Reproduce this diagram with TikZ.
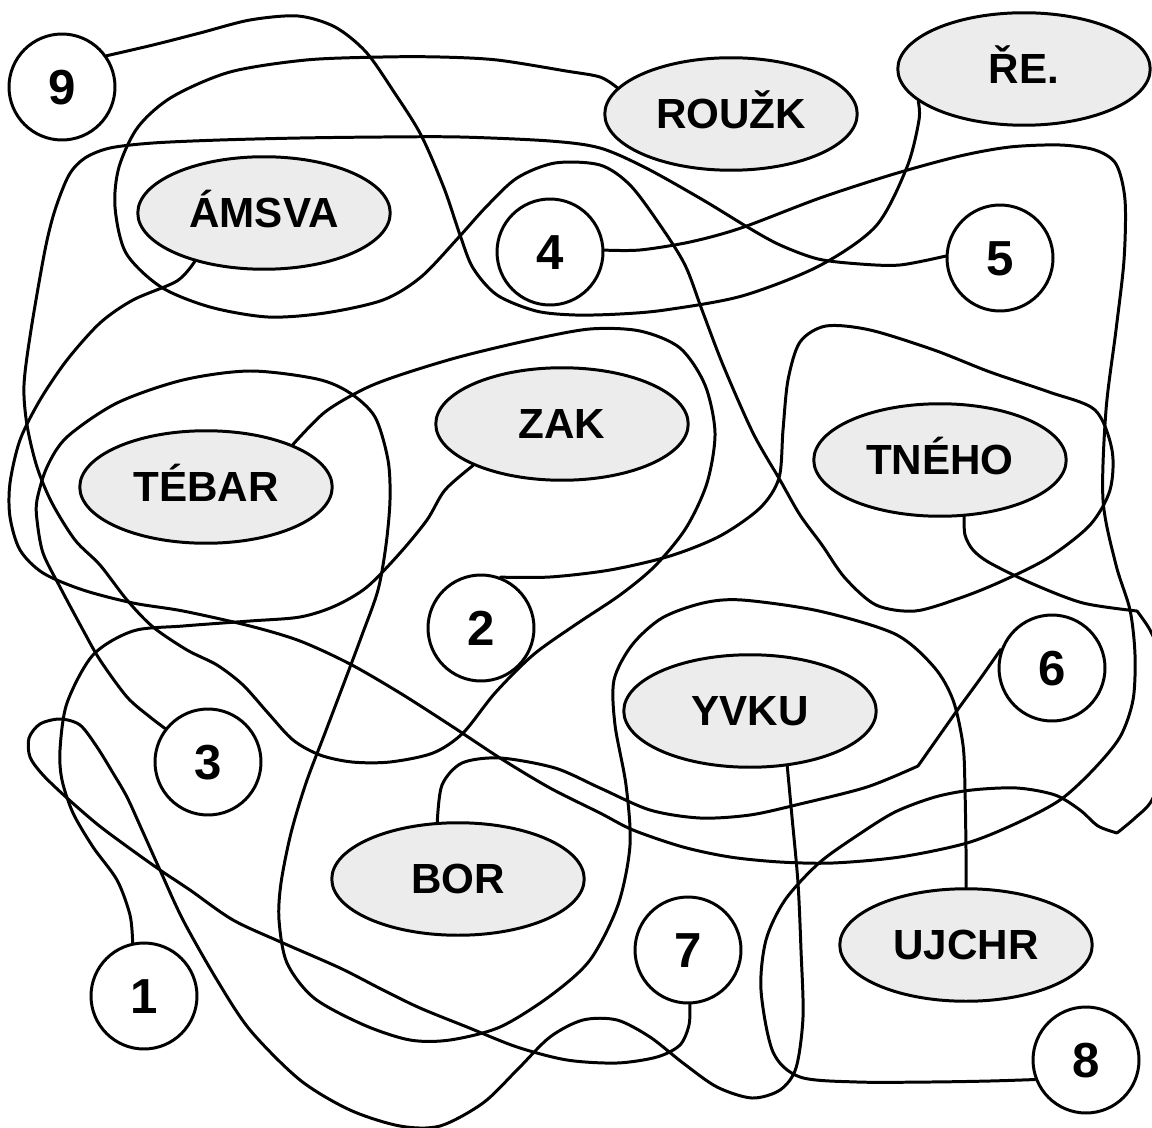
\documentclass[tikz,border=0pt]{standalone}
\usepackage{fontspec}
\setmainfont{Liberation Sans}
\usetikzlibrary{shapes.geometric}
\definecolor{ovalfill}{RGB}{236,236,236}

\begin{document}
\begin{tikzpicture}[x=0.02cm, y=-0.02cm,
          numcircle/.style={circle, draw=black, line width=1.7pt, fill=white,
            minimum size=2.12cm, inner sep=0pt, text height=20pt, text depth=0pt,
            font=\fontsize{28}{28}\selectfont\bfseries},
          wordoval/.style={ellipse, draw=black, line width=1.7pt, fill=ovalfill,
            minimum width=5.05cm, minimum height=2.25cm, inner sep=0pt,
            text height=17pt, text depth=0pt, font=\fontsize{24}{24}\selectfont\bfseries},
          tangle/.style={line width=1.7pt, line cap=round, line join=round}]

        \useasboundingbox (0,0) rectangle (1152,1128);
        \clip (0,0) rectangle (1152,1128);

        \node[numcircle] (c9)    at (62,87)    {9};
        \node[wordoval]  (rouzk) at (731,114)  {ROUŽK};
        \node[wordoval]  (re)    at (1024,69)  {ŘE.};
        \node[wordoval]  (amsva) at (264,213)  {ÁMSVA};
        \node[numcircle] (c4)    at (550,252)  {4};
        \node[numcircle] (c5)    at (1000,258) {5};

        \node[wordoval]  (zak)   at (562,424)  {ZAK};
        \node[wordoval]  (tebar) at (206,487)  {TÉBAR};
        \node[wordoval]  (tneho) at (940,460)  {TNÉHO};
        \node[numcircle] (c2)    at (481,628)  {2};
        \node[numcircle] (c6)    at (1052,668) {6};

        \node[wordoval]  (yvku)  at (750,711)  {YVKU};
        \node[numcircle] (c3)    at (208,762)  {3};
        \node[wordoval]  (bor)   at (458,879)  {BOR};
        \node[numcircle] (c7)    at (688,950)  {7};
        \node[wordoval]  (ujchr) at (966,945)  {UJCHR};
        \node[numcircle] (c1)    at (144,996)  {1};
        \node[numcircle] (c8)    at (1086,1060) {8};

        \draw[tangle] plot[smooth] coordinates {(c9.35) (153,45) (200,33) (250,20) (298,16)
          (335,27) (366,52) (394,92) (421,135) (444,188) (460,235) (473,268) (497,295)
          (536,311) (575,315) (620,314) (665,310) (742,296) (819,266) (876,226) (907,167)
          (919,120) (re.197)};

        \draw[tangle] plot[smooth] coordinates {(rouzk.167) (600,77) (566,71) (497,60)
          (440,57) (383,57) (306,60) (230,72) (172,97) (138,127) (119,167) (115,207)
          (126,253) (161,287) (210,307) (268,317) (325,313) (383,300) (421,277) (459,237)
          (486,207) (517,178) (555,163) (600,165) (630,185) (660,225) (685,265) (702,310)
          (723,365) (753,433) (780,480) (800,515) (822,545) (845,578) (876,605) (915,611)
          (960,598) (1000,582) (1048,558) (1090,525) (1110,490) (1112,450) (1095,410)
          (1049,392) (990,372) (934,350) (870,330) (826,326) (800,342) (788,380) (783,430)
          (779,478) (760,508) (720,536) (670,556) (610,570) (550,577) (c2.69)};

        \draw[tangle] plot[smooth] coordinates {(c4.2) (640,250) (690,242) (741,228)
          (820,198) (894,174) (960,156) (1010,147) (1060,145) (1095,150) (1116,164)
          (1125,200) (1124,260) (1116,330) (1106,410) (1103,500) (1116,565) (1130,610)
          (1135,655) (1133,700) (1120,737) (1093,770) (1060,800) (1017,823) (967,843)
          (900,857) (833,863) (780,862) (730,857) (683,847) (633,830) (600,813) (550,788)
          (500,758) (450,725) (400,693) (350,664) (300,641) (250,626) (183,611) (133,603)
          (83,590) (43,573) (20,550) (10,517) (10,483) (20,440) (40,400) (67,360) (100,323)
          (133,300) (177,281) (amsva.215)};

        \draw[tangle] plot[smooth] coordinates {(c5.178) (900,265) (860,264) (818,259)
          (780,245) (749,228) (703,200) (646,168) (600,148) (550,141) (460,137) (383,137)
          (300,138) (220,140) (153,143) (110,148) (85,158) (69,175) (55,210) (45,250)
          (31,330) (24,385) (27,425) (37,467) (52,503) (75,540) (100,565) (127,600)
          (153,627) (187,650) (217,665) (243,685) (268,713) (293,740) (320,755) (352,762)
          (390,762) (433,753) (463,733) (495,693) (533,655) (575,625) (620,595) (655,566)
          (686,528) (707,483) (715,433) (705,385) (680,348) (640,331) (590,329) (530,340)
          (459,357) (400,375) (364,389) (325,412) (tebar.26)};

        \draw[tangle] plot[smooth] coordinates {(c3.142) (150,717) (127,697) (100,660)
          (83,630) (60,587) (43,553) (37,520) (37,500) (47,467) (67,437) (117,403)
          (183,380) (250,371) (317,379) (350,393) (375,417) (388,460) (390,500) (386,545)
          (378,590) (362,635) (344,683) (325,733) (306,783) (291,833) (281,883) (279,920)
          (287,963) (314,998) (364,1025) (410,1040) (450,1040) (500,1027) (550,996)
          (590,960) (618,905) (630,845) (626,785) (615,725) (614,680) (632,645) (662,618)
          (703,603) (742,600) (819,611) (895,634) (934,667) (953,700) (963,745) (965,790)
          (966,850) (ujchr.north)};

        \draw[tangle] plot[smooth] coordinates {(c6.160) (980,679) (956,712) (918,766)}
          plot[smooth] coordinates {(918,766) (867,787) (800,804) (750,815) (700,818)
          (650,810) (600,788) (555,768) (500,758) (462,763) (442,785) (bor.110)};

        \draw[tangle] plot[smooth] coordinates {(c7.272) (689,1025) (680,1045) (657,1057)
          (617,1063) (567,1060) (517,1047) (467,1027) (420,1008) (383,990) (340,968)
          (283,943) (233,920) (190,890) (160,870) (125,845) (97,824) (67,798) (43,775)
          (30,757) (29,738) (40,724) (60,719) (80,725) (97,747) (113,773) (127,797)
          (142,830) (160,870) (183,920) (217,980) (250,1030) (300,1080) (350,1110)
          (400,1126) (440,1126) (483,1103) (517,1070) (550,1037) (583,1020) (617,1020)
          (650,1037) (683,1063) (717,1087) (752,1098) (780,1090) (796,1068) (803,1017)
          (801,950) (798,883) (792,817) (yvku.304)};

        \draw[tangle] plot[smooth] coordinates {(c8.201) (990,1081) (930,1082) (857,1082)
          (800,1077) (773,1052) (761,990) (766,940) (785,900) (819,863) (858,835)
          (895,812) (935,797) (972,790) (1017,788) (1055,795) (1080,810) (1098,826)
          (1117,833)}
          plot[smooth] coordinates {(1117,833) (1135,818) (1152,800) (1166,760)
          (1168,700) (1160,655) (1150,630) (1137,611)}
          plot[smooth] coordinates {(1137,611) (1083,603) (1033,584) (990,563)
          (973,550) (965,535) (tneho.293)};

        \draw[tangle] plot[smooth] coordinates {(c1.102) (130,915) (117,880) (93,847)
          (73,813) (62,780) (60,750) (67,703) (93,655) (133,631) (183,626) (250,621)
          (300,617) (335,606) (367,587) (400,553) (427,520) (445,490) (zak.205)};

      \end{tikzpicture}
\end{document}
